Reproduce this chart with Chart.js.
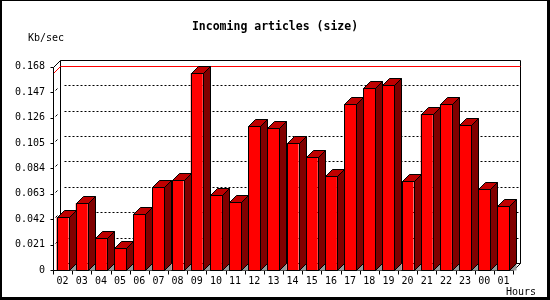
<!DOCTYPE html>
<html>
<head>
<meta charset="utf-8">
<script src="https://cdn.jsdelivr.net/npm/chart.js@4/dist/chart.umd.min.js"></script>
<style>
    html, body { margin: 0; padding: 0; background: #fff; }
    #wrap { width: 550px; height: 300px; }
</style>
</head>
<body>
<div id="wrap"><canvas id="articlesChart" width="550" height="300"></canvas></div>
<script>
const hours = ["02", "03", "04", "05", "06", "07", "08", "09", "10", "11", "12", "13",
    "14", "15", "16", "17", "18", "19", "20", "21", "22", "23", "00", "01"];
const sizeKb = [0.0436, 0.0551, 0.0262, 0.0179, 0.0460, 0.0686, 0.0741, 0.1626, 0.0617, 0.0559, 0.1188, 0.1171,
    0.1047, 0.0932, 0.0774, 0.1370, 0.1502, 0.1530, 0.0733, 0.1287, 0.1370, 0.1196, 0.0667, 0.0527];
const yTicks = [0, 0.021, 0.042, 0.063, 0.084, 0.105, 0.126, 0.147, 0.168];

const DEPTH = 7;
const MONO = "'DejaVu Sans Mono', monospace";

// pixel helpers so 1px lines stay sharp
const px = (v) => Math.round(v) + 0.5;

function poly(ctx, pts, fill) {
    ctx.beginPath();
    pts.forEach(([x, y], i) => (i === 0 ? ctx.moveTo(x, y) : ctx.lineTo(x, y)));
    ctx.closePath();
    if (fill) {
        ctx.fillStyle = fill;
        ctx.fill();
    }
    ctx.stroke();
}

function line(ctx, pts) {
    ctx.beginPath();
    pts.forEach(([x, y], i) => (i === 0 ? ctx.moveTo(x, y) : ctx.lineTo(x, y)));
    ctx.stroke();
}

const box3d = {
    id: "box3d",
    beforeDraw(chart) {
        const { ctx, width, height } = chart;
        ctx.save();
        ctx.fillStyle = "#ffffff";
        ctx.fillRect(0, 0, width, height);
        ctx.fillStyle = "#000000";
        ctx.fillRect(0, 0, width, 1);
        ctx.fillRect(0, 0, 2, height);
        ctx.fillRect(width - 3, 0, 3, height);
        ctx.fillRect(0, height - 3, width, 3);
        ctx.restore();
    },
    beforeDatasetsDraw(chart) {
        const { ctx, chartArea: a, scales: { x, y } } = chart;
        const fl = px(a.left), fr = px(a.right), fb = px(a.bottom), ft = px(a.top);
        const bl = px(a.left + DEPTH), br = px(a.right + DEPTH);
        const bt = px(a.top - DEPTH), bb = px(a.bottom - DEPTH);

        ctx.save();
        ctx.lineWidth = 1;
        ctx.strokeStyle = "#000000";

        // dotted grid on the back wall
        ctx.setLineDash([2, 2]);
        yTicks.slice(1, -1).forEach((v) => {
            const gy = px(y.getPixelForValue(v) - DEPTH);
            line(ctx, [[bl + 4, gy], [br, gy]]);
        });
        ctx.setLineDash([]);

        // back wall frame
        line(ctx, [[bl, bb], [bl, bt], [br, bt], [br, bb], [bl, bb]]);
        line(ctx, [[fl, ft], [bl, bt]]);
        line(ctx, [[fr, fb], [br, bb]]);

        // max value marker
        const peak = Math.max(...sizeKb);
        const my = y.getPixelForValue(peak);
        ctx.strokeStyle = "#ff0000";
        line(ctx, [[fl, px(my)], [bl, px(my - DEPTH)], [br, px(my - DEPTH)]]);

        // front axes with ticks
        ctx.strokeStyle = "#000000";
        line(ctx, [[fl, ft], [fl, fb], [fr, fb]]);
        yTicks.forEach((v) => {
            const ty = px(y.getPixelForValue(v));
            line(ctx, [[fl - 3, ty], [fl, ty]]);
            if (v > 0 && v < yTicks[yTicks.length - 1]) {
                line(ctx, [[fl + 2, ty - 2], [fl + 4, ty - 4]]);
            }
        });
        for (let i = 0; i <= hours.length; i += 1) {
            const tx = px(x.getPixelForValue(i - 0.5));
            line(ctx, [[tx, fb], [tx, fb + 4]]);
        }
        ctx.restore();
    },
    afterDatasetsDraw(chart) {
        const { ctx } = chart;
        const meta = chart.getDatasetMeta(0);
        ctx.save();
        ctx.lineWidth = 1;
        ctx.strokeStyle = "#000000";
        meta.data.forEach((bar) => {
            const { x: cx, y: top, base, width } = bar.getProps(["x", "y", "base", "width"], true);
            const L = px(cx - width / 2), R = px(cx + width / 2);
            const T = px(top), B = px(base);

            // floor shadow under the side
            ctx.fillStyle = "#999999";
            ctx.beginPath();
            ctx.moveTo(R, B);
            ctx.lineTo(R + DEPTH, B - DEPTH);
            ctx.lineTo(R + DEPTH, B);
            ctx.closePath();
            ctx.fill();

            poly(ctx, [[R, T], [R + DEPTH, T - DEPTH], [R + DEPTH, B - DEPTH], [R, B]], "#800000");
            poly(ctx, [[L, T], [L + DEPTH, T - DEPTH], [R + DEPTH, T - DEPTH], [R, T]], "#c00000");
            poly(ctx, [[L, T], [R, T], [R, B], [L, B]], null);
        });
        ctx.restore();
    },
    afterDraw(chart) {
        const { ctx } = chart;
        ctx.save();
        ctx.fillStyle = "#000000";
        ctx.font = "10px " + MONO;
        ctx.textBaseline = "middle";
        ctx.textAlign = "left";
        ctx.fillText("Kb/sec", 28, 38);
        ctx.fillText("Hours", 506, 292);
        ctx.restore();
    }
};

new Chart(document.getElementById("articlesChart").getContext("2d"), {
    type: "bar",
    data: {
        labels: hours,
        datasets: [{
            data: sizeKb,
            backgroundColor: "#ff0000",
            borderWidth: 0,
            barPercentage: 0.625,
            categoryPercentage: 1
        }]
    },
    options: {
        responsive: false,
        animation: false,
        devicePixelRatio: 1,
        layout: { padding: 0 },
        plugins: {
            legend: { display: false },
            tooltip: { enabled: false },
            title: {
                display: true,
                text: "Incoming articles (size)",
                color: "#000000",
                font: { family: MONO, size: 11.5, weight: "bold" },
                padding: { top: 20, bottom: 33 }
            }
        },
        scales: {
            x: {
                grid: { display: false, drawTicks: false },
                border: { display: false },
                ticks: {
                    color: "#000000",
                    font: { family: MONO, size: 10 },
                    padding: 5,
                    maxRotation: 0,
                    autoSkip: false
                },
                afterFit: (scale) => { scale.height = 30; }
            },
            y: {
                min: 0,
                max: yTicks[yTicks.length - 1],
                grid: { display: false, drawTicks: false },
                border: { display: false },
                ticks: {
                    color: "#000000",
                    font: { family: MONO, size: 10 },
                    padding: 8,
                    callback: (v) => (v === 0 ? "0" : Number(v).toFixed(3))
                },
                afterBuildTicks: (scale) => { scale.ticks = yTicks.map((v) => ({ value: v })); },
                afterFit: (scale) => { scale.width = 53; }
            },
            // empty right-hand strip that holds the 3D depth and the "Hours" label
            side: {
                type: "linear",
                position: "right",
                grid: { display: false, drawTicks: false },
                border: { display: false },
                ticks: { display: false },
                afterFit: (scale) => { scale.width = 37; }
            }
        }
    },
    plugins: [box3d]
});
</script>
</body>
</html>
